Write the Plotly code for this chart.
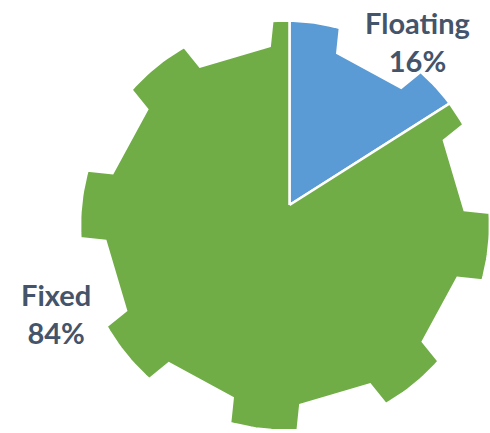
import numpy as np
import plotly.graph_objects as go

# ---- data ----
labels = ["Floating", "Fixed"]
values = [16, 84]
colors = ["#5B9BD5", "#70AD47"]
label_pos = [(417, 41), (56, 313)]   # label anchor (pixel space)

# ---- gear geometry (style) ----
C = np.array([285.0, 225.5])      # gear centre
APEX = np.array([289.5, 205.0])   # pie centre
R_O, D_B, HALF_W = 205.0, 177.0, 34.0
N_TEETH, PHASE = 8, 6.0


def gear_outline():
    pts = []
    half = np.arcsin(HALF_W / R_O)
    for k in range(N_TEETH):
        phi = np.radians(PHASE + 360.0 / N_TEETH * k)
        u = np.array([np.sin(phi), -np.cos(phi)])
        v = np.array([np.cos(phi), np.sin(phi)])
        pts.append(C + D_B * u - HALF_W * v)
        for t in np.linspace(phi - half, phi + half, 14):
            pts.append(C + R_O * np.array([np.sin(t), -np.cos(t)]))
        pts.append(C + D_B * u + HALF_W * v)
    return np.array(pts)


pts = gear_outline()
d = pts - APEX
ang = np.degrees(np.arctan2(d[:, 0], -d[:, 1])) % 360
i0 = int(np.argmin(ang))
pts = np.roll(pts, -i0, axis=0)
ang = np.roll(ang, -i0)
pts_ext = np.vstack([pts[-1:], pts, pts[:1]])
ang_ext = np.concatenate([[ang[-1] - 360], ang, [ang[0] + 360]])


def cross(a, b):
    return a[0] * b[1] - a[1] * b[0]


def ray_hit(theta):
    i = int(np.searchsorted(ang_ext, theta)) - 1
    i = max(0, min(i, len(pts_ext) - 2))
    p, q = pts_ext[i], pts_ext[i + 1]
    th = np.radians(theta)
    dirv = np.array([np.sin(th), -np.cos(th)])
    t = cross(p - APEX, q - p) / cross(dirv, q - p)
    return APEX + t * dirv


fig = go.Figure()
total = float(sum(values))
start = 0.0
for lab, val, col in zip(labels, values, colors):
    a0 = start / total * 360.0
    a1 = (start + val) / total * 360.0
    start += val
    poly = [APEX, ray_hit(a0)]
    mask = (ang_ext > a0) & (ang_ext < a1)
    poly += list(pts_ext[mask])
    poly += [ray_hit(a1), APEX]
    poly = np.array(poly)
    fig.add_trace(go.Scatter(
        x=poly[:, 0], y=poly[:, 1], mode="lines", fill="toself",
        fillcolor=col, line=dict(color="white", width=2.5),
        hoverinfo="skip", showlegend=False, name=lab))

for lab, val, (lx, ly) in zip(labels, values, label_pos):
    pct = round(val / total * 100)
    fig.add_annotation(
        x=lx, y=ly, xref="x", yref="y", showarrow=False,
        text=f"{lab}<br>{pct}%", align="center",
        font=dict(family="Lato", size=29, color="#44546A", weight="bold"),
        xanchor="center", yanchor="middle")

W, H = 490, 433
fig.update_layout(
    width=W, height=H,
    margin=dict(l=0, r=0, t=0, b=0),
    paper_bgcolor="white", plot_bgcolor="white",
    xaxis=dict(range=[0, W], visible=False, fixedrange=True),
    yaxis=dict(range=[H, 0], visible=False, fixedrange=True),
)

fig.write_html(
    "out.html",
    config={"displayModeBar": False},
    post_script="document.body.style.margin='0';document.body.style.overflow='hidden';",
)
